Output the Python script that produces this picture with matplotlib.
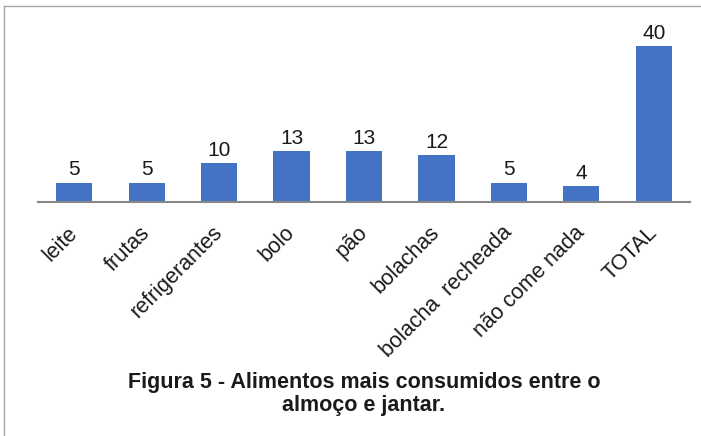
import matplotlib.pyplot as plt
from matplotlib.lines import Line2D

categorias = ['leite', 'frutas', 'refrigerantes', 'bolo', 'pão', 'bolachas',
              'bolacha  recheada', 'não come nada', 'TOTAL']
valores = [5, 5, 10, 13, 13, 12, 5, 4, 40]

plt.rcParams['font.family'] = ['Liberation Sans', 'DejaVu Sans']

fig = plt.figure(figsize=(7.01, 4.36), dpi=100)
W, H = 701, 436
# axes: baseline at y=202px, x from 38 to 690
ax = fig.add_axes([38 / W, (H - 202) / H, (690 - 38) / W, 175 / H])

x = range(len(categorias))
barras = ax.bar(x, valores, width=0.5, color='#4472C4')
ax.set_xlim(-0.5, len(categorias) - 0.5)
ax.set_ylim(0, 45)

for b, v in zip(barras, valores):
    ax.text(b.get_x() + b.get_width() / 2, v + 0.8, str(v),
            ha='center', va='bottom', fontsize=15, color='#1a1a1a')

ax.set_xticks(list(x))
ax.set_xticklabels(categorias, rotation=45, ha='right', va='center',
                   rotation_mode='anchor', fontsize=15.5, color='#1a1a1a')
ax.tick_params(axis='x', length=0, pad=20)
ax.set_yticks([])
for lado in ['top', 'right', 'left']:
    ax.spines[lado].set_visible(False)
ax.spines['bottom'].set_color('#878787')
ax.spines['bottom'].set_linewidth(1.5)

fig.text(364 / W, 1 - 382 / H, 'Figura 5 - Alimentos mais consumidos entre o',
         ha='center', va='center', fontsize=15.5, fontweight='bold', color='#1a1a1a')
fig.text(364 / W, 1 - 405 / H, 'almoço e jantar.',
         ha='center', va='center', fontsize=15.5, fontweight='bold', color='#1a1a1a')

# moldura
fig.add_artist(Line2D([3.5 / W, 3.5 / W], [0, 1 - 6.5 / H], transform=fig.transFigure,
                      color='#a6a6a6', linewidth=1))
fig.add_artist(Line2D([3.5 / W, 1], [1 - 6.5 / H, 1 - 6.5 / H], transform=fig.transFigure,
                      color='#a6a6a6', linewidth=1))

fig.savefig('out.png', dpi=100)
